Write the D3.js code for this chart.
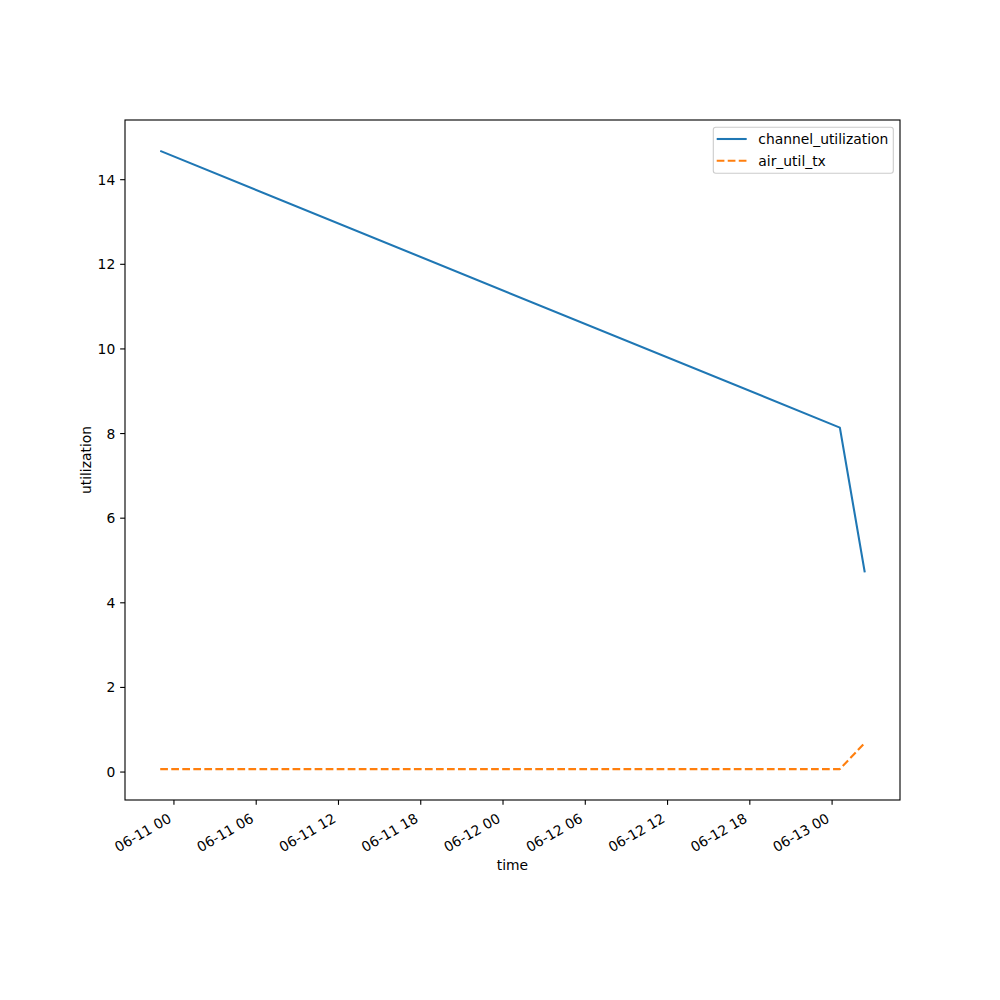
<!DOCTYPE html>
<html>
<head>
<meta charset="utf-8">
<script src="https://cdn.jsdelivr.net/npm/d3@7"></script>
<style>
  body { margin: 0; background: #fff; }
  text { font-family: "DejaVu Sans", sans-serif; }
</style>
</head>
<body>
<svg id="chart" width="1000" height="1000"></svg>
<script>
// ---- data ----
const times = ["2024-06-10T23:00", "2024-06-13T00:34", "2024-06-13T02:23"];
const channelUtilization = [14.68, 8.14, 4.72];
const airUtilTx = [0.07, 0.07, 0.69];
const seriesNames = ["channel_utilization", "air_util_tx"];
const yTickValues = [0, 2, 4, 6, 8, 10, 12, 14];

// ---- layout ----
const svg = d3.select("#chart");
svg.append("rect").attr("width", 1000).attr("height", 1000).attr("fill", "#fff");
const L = 125, R = 900, T = 120, B = 800;
const fs = 13.89;

const parse = d3.utcParse("%Y-%m-%dT%H:%M");
const tDates = times.map(parse);
const tmin = d3.min(tDates), tmax = d3.max(tDates);
const tspan = tmax - tmin;
const x = d3.scaleUtc()
  .domain([new Date(+tmin - tspan * 0.05), new Date(+tmax + tspan * 0.05)])
  .range([L, R]);

const allY = channelUtilization.concat(airUtilTx);
const ymin = d3.min(allY), ymax = d3.max(allY), yspan = ymax - ymin;
const y = d3.scaleLinear()
  .domain([ymin - yspan * 0.05, ymax + yspan * 0.05])
  .range([B, T]);

const colors = ["#1f77b4", "#ff7f0e"];
const lw = 2.08;

// ---- lines ----
const lineGen = d3.line().x(d => x(d[0])).y(d => y(d[1]));
const series = [channelUtilization, airUtilTx];
series.forEach((vals, i) => {
  svg.append("path")
    .datum(tDates.map((t, j) => [t, vals[j]]))
    .attr("d", lineGen)
    .attr("fill", "none")
    .attr("stroke", colors[i])
    .attr("stroke-width", lw)
    .attr("stroke-dasharray", i === 1 ? "7.7,3.33" : null)
    .attr("stroke-linejoin", "round");
});

// ---- axes ----
const tickLen = 4.86, pad = 4.86;
const xTicks = x.ticks(d3.utcHour.every(6));
const fmt = d3.utcFormat("%m-%d %H");
const xg = svg.append("g");
xTicks.forEach(t => {
  const tx = x(t);
  xg.append("line").attr("x1", tx).attr("x2", tx).attr("y1", B).attr("y2", B + tickLen)
    .attr("stroke", "#000").attr("stroke-width", 1.11);
  const ax = tx - 1.6, ay = B + tickLen + pad + 11.5;
  xg.append("text")
    .attr("transform", `translate(${ax},${ay}) rotate(-30)`)
    .attr("text-anchor", "end")
    .attr("font-size", fs)
    .attr("fill", "#000")
    .text(fmt(t));
});

const yg = svg.append("g");
yTickValues.forEach(v => {
  const ty = y(v);
  yg.append("line").attr("x1", L - tickLen).attr("x2", L).attr("y1", ty).attr("y2", ty)
    .attr("stroke", "#000").attr("stroke-width", 1.11);
  yg.append("text")
    .attr("x", L - tickLen - pad)
    .attr("y", ty)
    .attr("dy", "0.36em")
    .attr("text-anchor", "end")
    .attr("font-size", fs)
    .attr("fill", "#000")
    .text(v);
});

// spines
svg.append("rect").attr("x", L).attr("y", T).attr("width", R - L).attr("height", B - T)
  .attr("fill", "none").attr("stroke", "#000").attr("stroke-width", 1.11);

// axis labels
svg.append("text").attr("x", (L + R) / 2).attr("y", 870).attr("text-anchor", "middle")
  .attr("font-size", fs).text("time");
svg.append("text").attr("transform", `translate(91,${(T + B) / 2}) rotate(-90)`)
  .attr("text-anchor", "middle").attr("font-size", fs).text("utilization");

// ---- legend ----
const lg = svg.append("g");
lg.append("rect").attr("x", 713.3).attr("y", 127.3).attr("width", 180).attr("height", 46)
  .attr("rx", 2.5).attr("fill", "#fff").attr("fill-opacity", 0.8)
  .attr("stroke", "#cccccc").attr("stroke-width", 1.11);
seriesNames.forEach((name, i) => {
  const ly = 139 + i * 21.7;
  lg.append("line").attr("x1", 716.7).attr("x2", 746.7).attr("y1", ly).attr("y2", ly)
    .attr("stroke", colors[i]).attr("stroke-width", lw)
    .attr("stroke-dasharray", i === 1 ? "7.7,3.33" : null);
  lg.append("text").attr("x", 758.3).attr("y", ly).attr("dy", "0.36em")
    .attr("font-size", fs).attr("fill", "#000").text(name);
});
</script>
</body>
</html>
